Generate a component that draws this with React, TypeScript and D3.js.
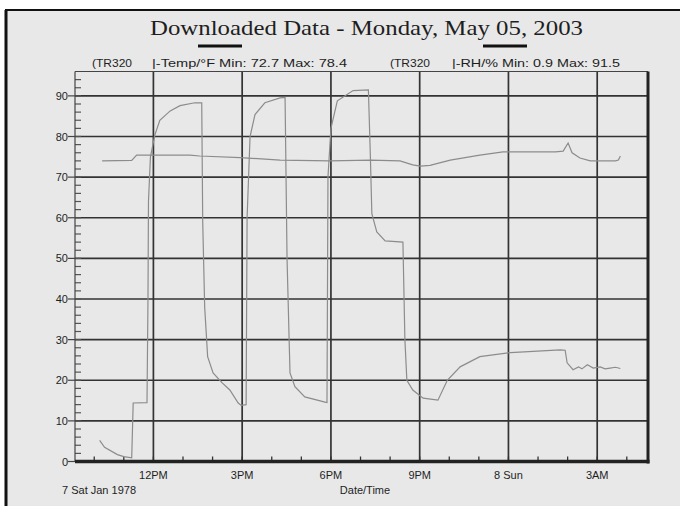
import React from 'react';
import * as d3 from 'd3';

// hours counted from midnight, Sat 7 Jan 1978
const rhTimes = [10.19, 10.35, 10.78, 11.0, 11.27, 11.31, 11.78, 11.81, 11.84, 11.9, 12.05, 12.22, 12.56, 12.9, 13.4, 13.64, 13.67, 13.74, 13.84, 14.01, 14.32, 14.59, 14.86, 14.96, 15.13, 15.16, 15.26, 15.43, 15.77, 16.28, 16.45, 16.52, 16.62, 16.79, 17.12, 17.8, 17.87, 17.9, 18.0, 18.21, 18.75, 19.26, 19.33, 19.39, 19.55, 19.83, 20.44, 20.5, 20.57, 20.77, 21.11, 21.62, 21.93, 22.37, 23.04, 24.06, 25.75, 25.92, 25.99, 26.19, 26.36, 26.49, 26.66, 26.86, 27.1, 27.27, 27.44, 27.61, 27.78];
const rhValues = [5.2, 3.5, 1.7, 1.2, 0.9, 14.4, 14.5, 40, 64, 75, 80.4, 84, 86.3, 87.6, 88.3, 88.3, 59, 38, 25.8, 21.8, 19.4, 17.6, 14.4, 13.8, 14, 60, 80, 85.4, 88.3, 89.5, 89.6, 50, 21.8, 18.4, 15.9, 14.6, 14.5, 70, 82, 88.8, 91.3, 91.5, 75, 61, 56.5, 54.3, 54, 30, 20, 17.6, 15.6, 15.1, 20, 23.3, 25.8, 26.8, 27.5, 27.4, 24.3, 22.6, 23.3, 22.8, 23.8, 23.0, 23.3, 22.8, 23.0, 23.2, 22.9];

const tempTimes = [10.26, 11.27, 11.44, 13.23, 13.57, 14.93, 16.28, 17.97, 19.33, 20.34, 20.77, 21.01, 21.35, 22.03, 23.04, 23.82, 25.58, 25.85, 26.02, 26.15, 26.42, 26.76, 27.61, 27.71, 27.78];
const tempValues = [74.0, 74.1, 75.4, 75.4, 75.2, 74.8, 74.2, 74.0, 74.2, 74.0, 73.0, 72.7, 72.9, 74.2, 75.4, 76.2, 76.2, 76.4, 78.4, 76.0, 74.7, 74.0, 74.0, 74.2, 75.2];

const xTickLabels = ['12PM', '3PM', '6PM', '9PM', '8 Sun', '3AM'];
const yTicks = [0, 10, 20, 30, 40, 50, 60, 70, 80, 90];

const at = (h: number) => new Date(1978, 0, 7, 0, Math.round(h * 60));

export default function App() {
  const left = 75, right = 648, top = 71.5, bottom = 461.5;

  const x = d3.scaleTime().domain([at(9.35), at(28.72)]).range([left, right]);
  const y = d3.scaleLinear().domain([0, 96]).range([bottom, top]);

  const line = d3.line<[Date, number]>().x(d => x(d[0])).y(d => y(d[1]));
  const rhPath = line(rhTimes.map((t, i) => [at(t), rhValues[i]]));
  const tempPath = line(tempTimes.map((t, i) => [at(t), tempValues[i]]));

  const majorX = x.ticks(d3.timeHour.every(3)!);
  const minorX = x.ticks(d3.timeHour.every(1)!);
  const minorY = d3.range(0, 96, 2);

  const sans = 'Liberation Sans, Arial, sans-serif';
  const ink = '#1e1e1e';

  return (
    <svg width={680} height={506} style={{ position: 'absolute', left: 0, top: 0, background: '#fff' }}>
      <rect x={6} y={10} width={674} height={496} fill="#e8e8e8" />
      <line x1={5} x2={680} y1={10} y2={10} stroke="#111" strokeWidth={2} />
      <line x1={6} x2={6} y1={10} y2={506} stroke="#111" strokeWidth={3} />

      <text x={150} y={35} fontFamily="Liberation Serif, Times New Roman, serif" fontSize={22} fill={ink}
        textLength={433} lengthAdjust="spacingAndGlyphs">
        Downloaded Data - Monday, May 05, 2003
      </text>

      {/* legend */}
      <rect x={198} y={44.5} width={44} height={3} fill="#111" />
      <rect x={483} y={44.5} width={44} height={3} fill="#111" />
      <g fontFamily={sans} fontSize={10.5} fill={ink}>
        <text x={92} y={67} textLength={40} lengthAdjust="spacingAndGlyphs">(TR320</text>
        <text x={152} y={67} textLength={195} lengthAdjust="spacingAndGlyphs">|-Temp/°F Min: 72.7 Max: 78.4</text>
        <text x={390} y={67} textLength={40} lengthAdjust="spacingAndGlyphs">(TR320</text>
        <text x={452} y={67} textLength={168} lengthAdjust="spacingAndGlyphs">|-RH/% Min: 0.9 Max: 91.5</text>
      </g>

      {/* grid */}
      {yTicks.filter(v => v > 0).map(v => (
        <line key={'gy' + v} x1={left} x2={right} y1={y(v)} y2={y(v)} stroke="#333" strokeWidth={1.7} />
      ))}
      {majorX.map(d => (
        <line key={'gx' + +d} x1={x(d)} x2={x(d)} y1={top} y2={bottom} stroke="#333" strokeWidth={1.7} />
      ))}

      {/* minor ticks */}
      {minorY.map(v => (
        <line key={'my' + v} x1={left} x2={left + 6} y1={y(v)} y2={y(v)} stroke="#555" strokeWidth={1.2} />
      ))}
      {minorX.map(d => (
        <line key={'mx' + +d} x1={x(d)} x2={x(d)} y1={bottom} y2={bottom - 5} stroke="#333" strokeWidth={1.3} />
      ))}

      {/* data */}
      <path d={tempPath || ''} fill="none" stroke="#8c8c8c" strokeWidth={1.2} />
      <path d={rhPath || ''} fill="none" stroke="#8c8c8c" strokeWidth={1.2} />

      {/* frame */}
      <line x1={left} x2={left} y1={top} y2={bottom} stroke="#444" strokeWidth={1.2} />
      <line x1={left} x2={right} y1={top} y2={top} stroke="#444" strokeWidth={1.2} />
      <line x1={right} x2={right} y1={top} y2={bottom + 2} stroke="#222" strokeWidth={3} />
      <line x1={left} x2={right + 1.5} y1={bottom} y2={bottom} stroke="#222" strokeWidth={3.5} />

      {/* y labels */}
      <g fontFamily={sans} fontSize={11} fill={ink} textAnchor="end">
        {yTicks.map(v => (
          <text key={'ly' + v} x={68} y={y(v) + 4}>{v}</text>
        ))}
      </g>
      {yTicks.map(v => (
        <line key={'ty' + v} x1={68} x2={left} y1={y(v)} y2={y(v)} stroke="#444" strokeWidth={1.2} />
      ))}

      {/* x labels */}
      <g fontFamily={sans} fontSize={11} fill={ink} textAnchor="middle">
        {majorX.map((d, i) => (
          <text key={'lx' + +d} x={x(d)} y={479}>{xTickLabels[i]}</text>
        ))}
        <text x={365} y={494}>Date/Time</text>
      </g>
      <text x={62} y={494} fontFamily={sans} fontSize={11} fill={ink}>7 Sat Jan 1978</text>
    </svg>
  );
}
